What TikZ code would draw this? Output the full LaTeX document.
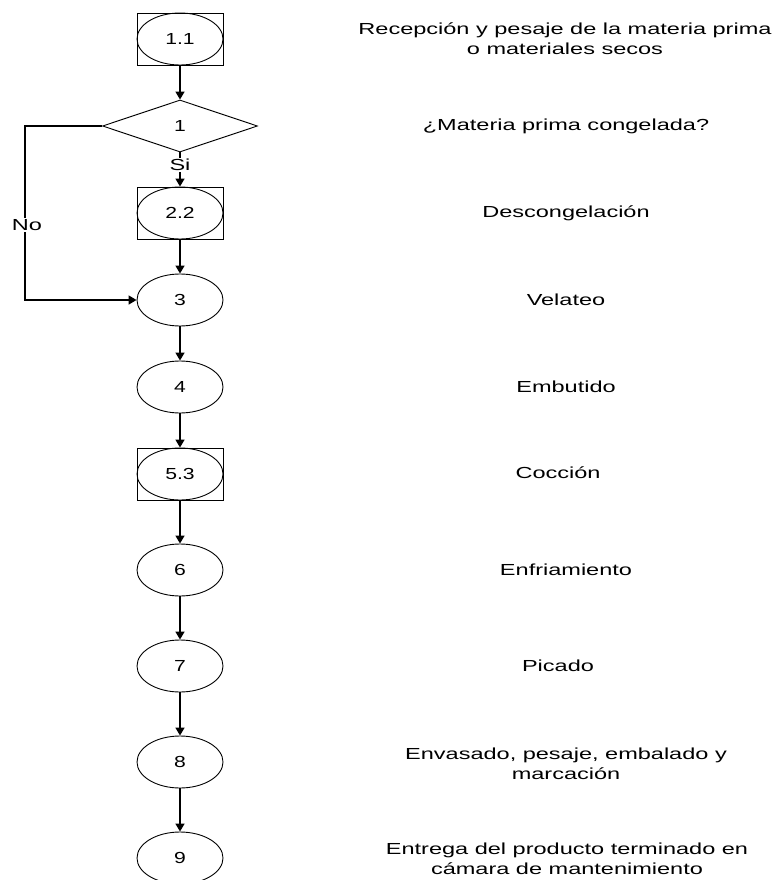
\documentclass[tikz,border=0pt]{standalone}
\usepackage{fontspec}
\setmainfont{Liberation Sans}
\newfontfamily\descfont{Liberation Sans}[FakeStretch=1.47]
\newfontfamily\numfont{Liberation Sans}[FakeStretch=1.32]
\usetikzlibrary{shapes.geometric,arrows.meta}

\begin{document}
\begin{tikzpicture}[x=1pt,y=-1pt,
  every node/.style={font=\fontsize{16}{20}\selectfont},
  proc/.style={ellipse,draw,line width=0.9pt,minimum width=86pt,minimum height=52pt,inner sep=0pt,
    font=\fontsize{16}{20}\selectfont\numfont},
  boxed/.style={rectangle,draw,line width=0.9pt,minimum width=86pt,minimum height=52pt,inner sep=0pt},
  decision/.style={diamond,draw,line width=0.9pt,minimum width=155pt,minimum height=52pt,inner sep=0pt,
    font=\fontsize{16}{20}\selectfont\numfont},
  flow/.style={line width=1.5pt,-{Triangle[length=8pt,width=9pt]}},
  tag/.style={fill=white,inner sep=1.5pt,font=\fontsize{16}{20}\selectfont\descfont},
  desc/.style={align=center,font=\fontsize{16}{20}\selectfont\descfont}]

\path[use as bounding box,fill=white] (0,0) rectangle (774,880);

% process column
\node[boxed] (b11) at (180,39) {};
\node[proc]  (n11) at (180,39) {1.1};
\node[decision] (d1) at (180,126) {1};
\node[boxed] (b22) at (180,213) {};
\node[proc]  (n22) at (180,213) {2.2};
\node[proc]  (n3)  at (180,300) {3};
\node[proc]  (n4)  at (180,387) {4};
\node[boxed] (b53) at (180,474) {};
\node[proc]  (n53) at (180,474) {5.3};
\node[proc]  (n6)  at (180,570) {6};
\node[proc]  (n7)  at (180,666) {7};
\node[proc]  (n8)  at (180,762) {8};
\node[proc]  (n9)  at (180,858) {9};

% connectors
\draw[flow] (b11.south) -- (d1.north);
\draw[flow] (d1.south) -- (b22.north);
\draw[flow] (b22.south) -- (n3.north);
\draw[flow] (n3.south) -- (n4.north);
\draw[flow] (n4.south) -- (b53.north);
\draw[flow] (b53.south) -- (n6.north);
\draw[flow] (n6.south) -- (n7.north);
\draw[flow] (n7.south) -- (n8.north);
\draw[flow] (n8.south) -- (n9.north);
\coordinate (bypass) at (25,126);
\draw[flow] (d1.west) -- (bypass) |- (n3.west);

\node[tag] (si) at (180,165) {Si};
\node[tag] (no) at (27,225) {No};

% step descriptions
\node[desc] (t11) at (565,39)  {Recepción y pesaje de la materia prima\\o materiales secos};
\node[desc] (t1)  at (566,126) {¿Materia prima congelada?};
\node[desc] (t22) at (566,213) {Descongelación};
\node[desc] (t3)  at (566,300) {Velateo};
\node[desc] (t4)  at (566,387) {Embutido};
\node[desc] (t53) at (558,473) {Cocción};
\node[desc] (t6)  at (566,570) {Enfriamiento};
\node[desc] (t7)  at (558,666) {Picado};
\node[desc] (t8)  at (566,764) {Envasado, pesaje, embalado y\\marcación};
\node[desc] (t9)  at (567,859) {Entrega del producto terminado en\\cámara de mantenimiento};
\end{tikzpicture}
\end{document}
